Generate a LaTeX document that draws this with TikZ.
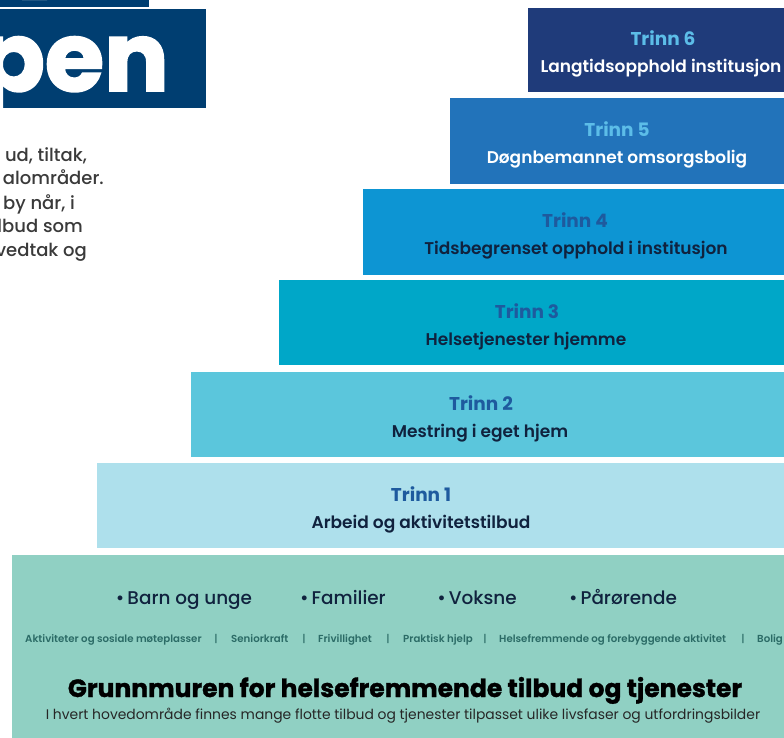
\documentclass[tikz,border=0pt]{standalone}
\usepackage{fontspec}
\setmainfont{Poppins}
\newfontfamily\psemi{Poppins SemiBold}
\newfontfamily\pmed{Poppins Medium}
\newfontfamily\pbold{Poppins Bold}
\newfontfamily\pheavy{Poppins Bold}[FakeBold=2]
\newfontfamily\ptitle{Poppins Bold}[FakeBold=1.2]
\definecolor{hdr}{RGB}{0,62,113}
\definecolor{tsix}{RGB}{31,59,122}
\definecolor{tfive}{RGB}{34,115,186}
\definecolor{tfour}{RGB}{13,149,211}
\definecolor{tthree}{RGB}{0,167,200}
\definecolor{ttwo}{RGB}{91,198,220}
\definecolor{tone}{RGB}{174,224,236}
\definecolor{basec}{RGB}{144,208,195}
\definecolor{lblue}{RGB}{92,189,232}
\definecolor{mblue}{RGB}{30,90,158}
\definecolor{dtext}{RGB}{16,34,62}
\definecolor{smalltext}{RGB}{43,107,102}
\definecolor{bodytext}{RGB}{58,58,58}
\tikzset{
  trinn/.style={anchor=base, inner sep=0pt, font=\pbold\fontsize{18.5}{21}\selectfont},
  sub/.style={anchor=base, inner sep=0pt, font=\psemi\fontsize{17}{20}\selectfont},
  bullet/.style={anchor=base, inner sep=0pt, font=\pmed\fontsize{18.4}{21}\selectfont, text=dtext},
  lefttext/.style={anchor=base east, inner sep=0pt, font=\pmed\fontsize{18}{21}\selectfont, text=bodytext},
  rowitem/.style={anchor=base west, inner sep=0pt, text=smalltext, font=\psemi\fontsize{10.2}{12}\selectfont},
  rowsep/.style={anchor=base, inner sep=0pt, text=smalltext, font=\pmed\fontsize{10.2}{12}\selectfont}
}
\begin{document}
\begin{tikzpicture}[x=1pt, y=-1pt]
\useasboundingbox (0,0) rectangle (784,737);
\clip (0,0) rectangle (784,737);
% header pieces
\fill[hdr] (0,0) rectangle (149,7);
\fill[white] (22,0) arc[start angle=180, end angle=360, x radius=12.5, y radius=5];
\node[fill=hdr, minimum width=206pt, minimum height=99pt, inner sep=0pt, anchor=north west] (hbox) at (0,9) {};
\node[anchor=base east, inner sep=0pt, text=white, font=\pheavy\fontsize{96}{96}\selectfont] (pen) at (169,91) {pen};
% left text
\node[lefttext] (l1) at (87,161) {ud, tiltak,};
\node[lefttext] (l2) at (104,184) {alområder.};
\node[lefttext] (l3) at (75,209) {by når, i};
\node[lefttext] (l4) at (83,232) {lbud som};
\node[lefttext] (l5) at (87,256) {vedtak og};
% steps
\fill[tsix] (528,8) rectangle (790,92);
\node[trinn, text=lblue] (t6) at (663,45) {Trinn 6};
\node[sub, text=white] (s6) at (661,72) {Langtidsopphold institusjon};
\fill[tfive] (450,98) rectangle (790,184);
\node[trinn, text=lblue] (t5) at (617,136) {Trinn 5};
\node[sub, text=white] (s5) at (617,163) {Døgnbemannet omsorgsbolig};
\fill[tfour] (363,189) rectangle (790,275);
\node[trinn, text=mblue] (t4) at (575,227) {Trinn 4};
\node[sub, text=dtext] (s4) at (576,254) {Tidsbegrenset opphold i institusjon};
\fill[tthree] (279,280) rectangle (790,365);
\node[trinn, text=mblue] (t3) at (527,318) {Trinn 3};
\node[sub, text=dtext] (s3) at (526,345) {Helsetjenester hjemme};
\fill[ttwo] (191,372) rectangle (790,457);
\node[trinn, text=mblue] (t2) at (481,410) {Trinn 2};
\node[sub, text=dtext] (s2) at (480,437) {Mestring i eget hjem};
\fill[tone] (97,463) rectangle (790,548);
\node[trinn, text=mblue] (t1) at (421,501) {Trinn 1};
\node[sub, text=dtext] (s1) at (421,528) {Arbeid og aktivitetstilbud};
% base
\fill[basec] (12,555) rectangle (790,740);
\node[bullet] (b1) at (184,604) {\textbullet\,Barn og unge};
\node[bullet] (b2) at (343,604) {\textbullet\,Familier};
\node[bullet] (b3) at (477,604) {\textbullet\,Voksne};
\node[bullet] (b4) at (623,604) {\textbullet\,Pårørende};
\node[rowitem] (r1) at (25,642) {Aktiviteter og sosiale møteplasser};
\node[rowsep] (p1) at (216,642) {|};
\node[rowitem] (r2) at (231,642) {Seniorkraft};
\node[rowsep] (p2) at (304,642) {|};
\node[rowitem] (r3) at (318,642) {Frivillighet};
\node[rowsep] (p3) at (388,642) {|};
\node[rowitem] (r4) at (403,642) {Praktisk hjelp};
\node[rowsep] (p4) at (485,642) {|};
\node[rowitem] (r5) at (499,642) {Helsefremmende og forebyggende aktivitet};
\node[rowsep] (p5) at (743,642) {|};
\node[rowitem] (r6) at (757,642) {Bolig};
\node[anchor=base, inner sep=0pt, text=black, font=\ptitle\fontsize{25}{28}\selectfont] (title) at (405,697) {Grunnmuren for helsefremmende tilbud og tjenester};
\node[anchor=base, inner sep=0pt, text=black!85, font=\fontsize{13.9}{16}\selectfont] (subt) at (403,719) {I hvert hovedområde finnes mange flotte tilbud og tjenester tilpasset ulike livsfaser og utfordringsbilder};
\end{tikzpicture}
\end{document}
